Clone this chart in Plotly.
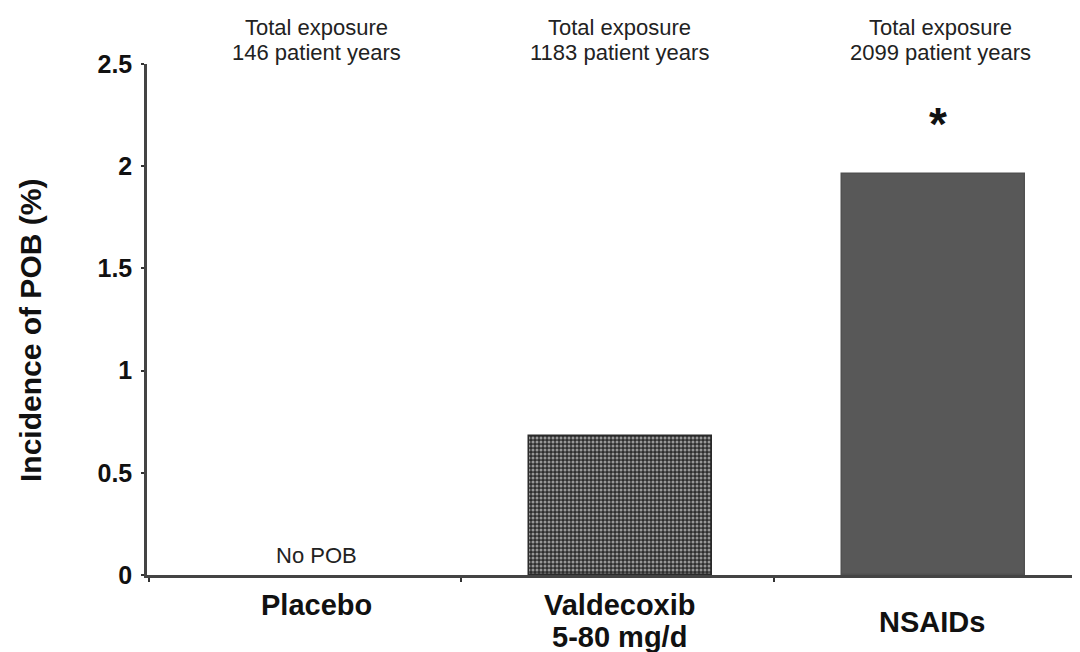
import plotly.graph_objects as go

categories = ["Placebo", "Valdecoxib", "NSAIDs"]
label_lines = [["Placebo"], ["Valdecoxib", "5-80 mg/d"], ["NSAIDs"]]
incidence = [0.0, 0.68, 1.96]
exposure_years = [146, 1183, 2099]
y_ticks = [0, 0.5, 1, 1.5, 2, 2.5]
y_tick_text = ["0", "0.5", "1", "1.5", "2", "2.5"]

FONT = "Arial, Liberation Sans, sans-serif"
OFF = 8  # page body margin
W, H = 1080, 652
L, T = 147 - OFF, 64 - OFF
PLOT_BOTTOM = 575 - OFF
R = W - (1080 - OFF)
B = H - PLOT_BOTTOM
plot_h = PLOT_BOTTOM - T
plot_w = W - L - R

def py(page_y):
    return (PLOT_BOTTOM - (page_y - OFF)) / plot_h

def px(page_x):
    return ((page_x - OFF) - L) / plot_w

BAR_W = 0.585
fig = go.Figure()
fig.add_trace(go.Bar(
    x=categories,
    y=incidence,
    width=BAR_W,
    offset=-BAR_W / 2 + 0.01,
    marker=dict(
        color=["#ffffff", "#2e2e2e", "#585858"],
        line=dict(color=["rgba(0,0,0,0)", "#2a2a2a", "#505050"], width=1.5),
        pattern=dict(
            shape=["", ".", ""],
            fgcolor="#b0b0b0",
            size=4,
            solidity=0.45,
            fillmode="overlay",
        ),
    ),
    hoverinfo="skip",
))

annotations = []
top_shift = [11, 2, 10]
for i, cat in enumerate(categories):
    for text, yy in (("Total exposure", 27), (f"{exposure_years[i]} patient years", 53)):
        annotations.append(dict(
            x=cat, xref="x", y=py(yy), yref="paper",
            text=text, showarrow=False, xanchor="center", yanchor="middle",
            xshift=top_shift[i],
            font=dict(family=FONT, size=22, color="#222222"),
        ))

label_shift = [11, 2, 2]
label_y = [[605], [605, 637], [622]]
for i, cat in enumerate(categories):
    for text, yy in zip(label_lines[i], label_y[i]):
        annotations.append(dict(
            x=cat, xref="x", y=py(yy), yref="paper",
            text=f"<b>{text}</b>",
            showarrow=False, xanchor="center", yanchor="middle",
            xshift=label_shift[i],
            font=dict(family=FONT, size=29, color="#111111"),
        ))

annotations.append(dict(
    x=categories[0], xref="x", y=py(555), yref="paper",
    text="No POB", showarrow=False, xanchor="center", yanchor="middle",
    xshift=11,
    font=dict(family=FONT, size=22, color="#222222"),
))
annotations.append(dict(
    x=categories[2], xref="x", y=py(124), yref="paper",
    text="<b>*</b>", showarrow=False, xanchor="center", yanchor="middle",
    xshift=8,
    font=dict(family=FONT, size=46, color="#111111"),
))
annotations.append(dict(
    x=px(30), xref="paper", y=py(331), yref="paper",
    text="<b>Incidence of POB (%)</b>", textangle=-90,
    showarrow=False, xanchor="center", yanchor="middle",
    font=dict(family=FONT, size=30, color="#111111"),
))

fig.update_layout(
    width=W, height=H,
    margin=dict(l=L, r=R, t=T, b=B, autoexpand=False),
    paper_bgcolor="white", plot_bgcolor="white",
    showlegend=False,
    bargap=0,
    annotations=annotations,
    xaxis=dict(
        type="category",
        range=[-0.506, 2.48],
        showticklabels=False,
        tickson="boundaries",
        ticks="outside", ticklen=4, tickwidth=2, tickcolor="#333333",
        showline=True, linecolor="#444444", linewidth=2.5,
        showgrid=False, zeroline=False,
    ),
    yaxis=dict(
        range=[0, 2.5],
        tickvals=y_ticks, ticktext=[f"<b>{t}</b>" for t in y_tick_text],
        ticks="outside", ticklen=3, tickwidth=2, tickcolor="#333333",
        ticklabelstandoff=4,
        tickfont=dict(family=FONT, size=25, color="#111111"),
        showline=True, linecolor="#444444", linewidth=2.5,
        showgrid=False, zeroline=False,
    ),
)

fig.write_html("out.html")
